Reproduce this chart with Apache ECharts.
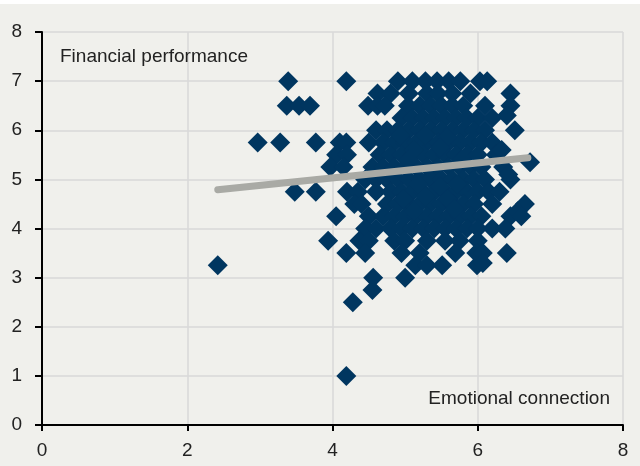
<!DOCTYPE html>
<html>
<head>
<meta charset="utf-8">
<script src="https://cdn.jsdelivr.net/npm/echarts@6/dist/echarts.min.js"></script>
<style>
html,body{margin:0;padding:0;background:#f0f0ec;}
#chart{width:640px;height:466px;}
</style>
</head>
<body>
<div id="chart"></div>
<script>
// Scatter data: [emotional connection, financial performance]
const pointsTop = [
  [3.39,7.0],[4.19,7.0],[4.9,7.0],[5.1,7.0],[5.28,7.0],[5.44,7.0],[5.6,7.0],[5.76,7.0],[6.03,7.0],[6.13,7.0],
  [4.62,6.75],[4.8,6.75],[5.05,6.75],[5.3,6.75],[5.45,6.75],[5.65,6.75],[5.9,6.75],[6.45,6.75],
  [3.37,6.5],[3.54,6.5],[3.69,6.5],[4.49,6.5],[4.62,6.5],[4.72,6.5],[5.04,6.5],[5.2,6.5],[5.35,6.5],[5.5,6.5],[5.65,6.5],[5.8,6.5],[6.1,6.5],[6.45,6.5],
  [4.95,6.25],[5.1,6.25],[5.25,6.25],[5.4,6.25],[5.55,6.25],[5.7,6.25],[5.85,6.25],[6.0,6.25],[6.2,6.25],[6.4,6.3]
];
const pointsUpperMid = [
  [4.6,6.0],[4.75,6.0],[4.9,6.0],[5.05,6.0],[5.2,6.0],[5.35,6.0],[5.5,6.0],[5.65,6.0],[5.8,6.0],[5.95,6.0],[6.1,6.0],[6.51,6.0],
  [2.97,5.75],[3.28,5.75],[3.77,5.75],[4.1,5.75],[4.19,5.75],[4.5,5.75],[4.7,5.75],[4.85,5.75],[5.0,5.75],[5.15,5.75],[5.3,5.75],[5.45,5.75],[5.6,5.75],[5.75,5.75],[5.9,5.75],[6.05,5.75],[6.2,5.75],
  [4.05,5.5],[4.2,5.5],[4.65,5.5],[4.8,5.5],[4.95,5.5],[5.1,5.5],[5.25,5.5],[5.4,5.5],[5.55,5.5],[5.7,5.5],[5.85,5.5],[6.0,5.5],[6.25,5.5],[6.33,5.6],
  [3.97,5.25],[4.15,5.25],[4.55,5.25],[4.7,5.25],[4.85,5.25],[5.0,5.25],[5.15,5.25],[5.3,5.25],[5.45,5.25],[5.6,5.25],[5.75,5.25],[5.9,5.25],[6.05,5.25],[6.35,5.25],[6.72,5.35],
  [4.93,5.9],[5.28,5.9],[5.58,5.85],[5.12,5.6],[5.48,5.65],[5.78,5.4],[5.05,5.4],[5.38,5.1]
];
const pointsLowerMid = [
  [4.45,5.0],[4.6,5.0],[4.75,5.0],[4.9,5.0],[5.05,5.0],[5.2,5.0],[5.35,5.0],[5.5,5.0],[5.65,5.0],[5.8,5.0],[5.95,5.0],[6.1,5.0],[6.45,5.0],[6.42,5.1],
  [3.48,4.75],[3.77,4.75],[4.2,4.75],[4.35,4.75],[4.6,4.75],[4.8,4.75],[4.95,4.75],[5.1,4.75],[5.25,4.75],[5.4,4.75],[5.55,4.75],[5.7,4.75],[5.85,4.75],[6.0,4.75],[6.15,4.75],[6.3,4.75],
  [4.3,4.5],[4.4,4.5],[4.75,4.5],[4.9,4.5],[5.05,4.5],[5.2,4.5],[5.35,4.5],[5.5,4.5],[5.65,4.5],[5.8,4.5],[5.95,4.5],[6.2,4.5],[6.65,4.5],
  [4.05,4.25],[4.5,4.25],[4.7,4.25],[4.85,4.25],[5.0,4.25],[5.15,4.25],[5.3,4.25],[5.45,4.25],[5.6,4.25],[5.75,4.25],[5.9,4.25],[6.05,4.25],[6.45,4.25],[6.55,4.35],[6.6,4.25],
  [5.18,4.9],[5.48,4.85],[5.72,4.9],[4.98,4.6],[5.28,4.65],[5.58,4.6],[5.12,4.35],[5.68,4.4]
];
const pointsBottom = [
  [4.45,4.0],[4.6,4.0],[4.8,4.0],[4.95,4.0],[5.1,4.0],[5.25,4.0],[5.4,4.0],[5.55,4.0],[5.7,4.0],[5.85,4.0],[6.0,4.0],[6.2,4.0],[6.38,4.0],
  [3.94,3.75],[4.37,3.75],[4.5,3.75],[4.85,3.75],[5.0,3.75],[5.3,3.75],[5.55,3.75],[5.75,3.75],[6.0,3.75],
  [4.19,3.5],[4.45,3.5],[4.95,3.5],[5.2,3.5],[5.69,3.5],[5.98,3.5],[6.07,3.5],[6.4,3.5],
  [2.42,3.25],[5.14,3.25],[5.3,3.25],[5.51,3.25],[5.99,3.25],[6.07,3.3],
  [4.56,3.0],[5.0,3.0],[4.55,2.75],[4.28,2.5],[4.19,1.0]
];
const trendLine = [[2.42,4.79],[6.69,5.44]];
const xTicks = [0,2,4,6,8];
const yTicks = [0,1,2,3,4,5,6,7,8];
const xTitle = 'Emotional connection';
const yTitle = 'Financial performance';

const allPoints = pointsTop.concat(pointsUpperMid, pointsLowerMid, pointsBottom);

const chart = echarts.init(document.getElementById('chart'), null, {renderer:'canvas'});
const labelFont = {color:'#222', fontSize:19, fontFamily:'Liberation Sans'};
chart.setOption({
  backgroundColor:'#f0f0ec',
  animation:false,
  grid:{left:42, right:17, top:32, bottom:41, containLabel:false},
  xAxis:{
    type:'value', min:xTicks[0], max:xTicks[xTicks.length-1], interval:2,
    axisLine:{show:true, onZero:false, lineStyle:{color:'#000', width:2}},
    axisTick:{show:true, length:6, lineStyle:{color:'#000', width:2}},
    axisLabel:Object.assign({margin:16}, labelFont),
    splitLine:{show:true, lineStyle:{color:'#d9d9d9', width:1.5}}
  },
  yAxis:{
    type:'value', min:yTicks[0], max:yTicks[yTicks.length-1], interval:1,
    axisLine:{show:true, onZero:false, lineStyle:{color:'#000', width:2}},
    axisTick:{show:true, length:7, lineStyle:{color:'#000', width:2}},
    axisLabel:Object.assign({margin:20}, labelFont),
    splitLine:{show:true, lineStyle:{color:'#d9d9d9', width:1.5}}
  },
  graphic:[
    {type:'rect', left:0, top:0, shape:{width:640, height:4}, style:{fill:'#ffffff'}, z:100},
    {type:'text', left:60, top:47, style:{text:yTitle, fill:'#222', fontSize:19, fontFamily:'Liberation Sans'}, z:100},
    {type:'text', right:30, top:389, style:{text:xTitle, fill:'#222', fontSize:19, fontFamily:'Liberation Sans'}, z:100}
  ],
  series:[
    {type:'scatter', data:allPoints, symbol:'diamond', symbolSize:20,
      itemStyle:{color:'#003660', opacity:1}, z:2},
    {type:'line', data:trendLine, showSymbol:false, symbol:'none',
      lineStyle:{color:'#a9aaa5', width:7, cap:'round'}, z:3}
  ]
});
</script>
</body>
</html>
